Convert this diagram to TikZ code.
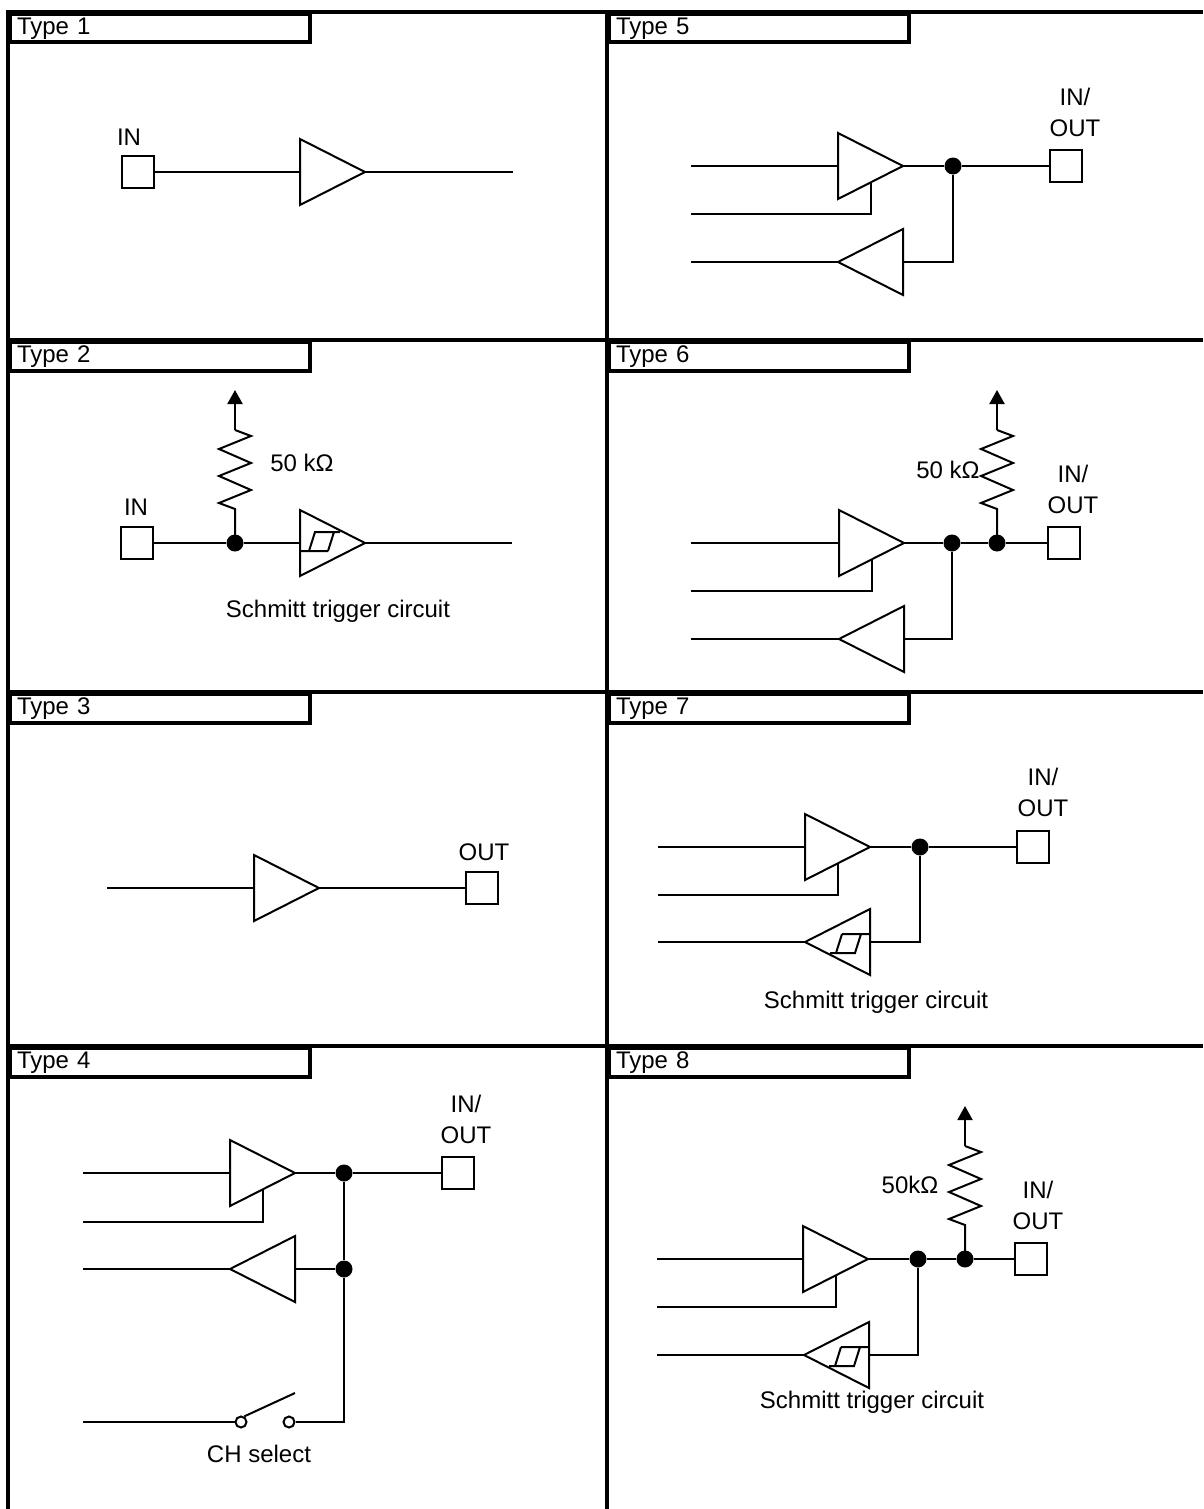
\documentclass[tikz,border=0pt]{standalone}
\usepackage{fontspec}
\setmainfont{Liberation Sans}
\usetikzlibrary{arrows.meta}
\newcommand{\iofont}{\fontsize{24}{28}\selectfont}
\tikzset{
  wire/.style={line width=2pt},
  frame/.style={line width=4pt},
  pad/.style={draw, line width=2pt, rectangle, minimum size=32pt, inner sep=0pt},
  dot/.style={circle, fill, inner sep=0pt, minimum size=17pt},
  contact/.style={circle, draw, line width=2pt, fill=white, inner sep=0pt, minimum size=11pt},
  lbl/.style={font=\iofont, inner sep=0pt},
  hdr/.style={draw, line width=4pt, anchor=north west, minimum width=300pt, minimum height=28.5pt,
    text width=286pt, inner xsep=7pt, align=left, font=\iofont},
  buffer/.pic={
    \draw[wire] (0,-33) -- (65,0) -- (0,33) -- cycle;
    \coordinate (-in) at (0,0);
    \coordinate (-out) at (65,0);
    \coordinate (-en) at (33,16.5);
  },
  schmitt/.pic={
    \draw[wire] (0,-33) -- (65,0) -- (0,33) -- cycle;
    \draw[wire] (0,8) -- (28,8) (9,8) -- (15,-11) -- (40,-11) (28,8) -- (34,-11);
    \coordinate (-in) at (0,0);
    \coordinate (-out) at (65,0);
  },
  pullup/.pic={
    \draw[wire] (0,0) -- (0,-34) -- (-16,-40) -- (16,-53) -- (-16,-67) -- (16,-80)
      -- (-16,-94) -- (16,-107) -- (0,-113);
    \draw[wire, -{Triangle[length=14pt, width=15pt]}] (0,-113) -- (0,-153);
  },
}

\begin{document}
\begin{tikzpicture}[x=1pt, y=-1pt]
  \useasboundingbox (0,0) rectangle (1203,1509);

  % Frame
  \draw[frame] (8,1509) -- (8,12) -- (1203,12);
  \draw[frame] (607,12) -- (607,1509);
  \foreach \rowy in {340, 692, 1046}
    \draw[frame] (8,\rowy) -- (1203,\rowy);

  % Headers
  \node[hdr] (h1) at (8,12) {Type 1};
  \node[hdr] (h2) at (8,340) {Type 2};
  \node[hdr] (h3) at (8,692) {Type 3};
  \node[hdr] (h4) at (8,1046) {Type 4};
  \node[hdr] (h5) at (607,12) {Type 5};
  \node[hdr] (h6) at (607,340) {Type 6};
  \node[hdr] (h7) at (607,692) {Type 7};
  \node[hdr] (h8) at (607,1046) {Type 8};

  % Type 1
  \node[pad] (t1pad) at (138,172) {};
  \node[lbl] (t1in) at (129,137) {IN};
  \pic (t1buf) at (300,172) {buffer};
  \coordinate (t1end) at (513,172);
  \draw[wire] (t1pad) -- (t1buf-in);
  \draw[wire] (t1buf-out) -- (t1end);

  % Type 2
  \node[pad] (t2pad) at (137,543) {};
  \node[lbl] (t2in) at (136,507) {IN};
  \pic (t2buf) at (300,543) {schmitt};
  \coordinate (t2end) at (512,543);
  \pic at (235,543) {pullup};
  \node[dot] (t2dot) at (235,543) {};
  \node[lbl] (t2res) at (302,463) {50 kΩ};
  \node[lbl] (t2cap) at (338,611) {Schmitt trigger circuit};
  \draw[wire] (t2pad) -- (t2dot) -- (t2buf-in);
  \draw[wire] (t2buf-out) -- (t2end);

  % Type 3
  \coordinate (t3start) at (107,888);
  \pic (t3buf) at (254,888) {buffer};
  \node[pad] (t3pad) at (482,888) {};
  \node[lbl] (t3out) at (484,852) {OUT};
  \draw[wire] (t3start) -- (t3buf-in);
  \draw[wire] (t3buf-out) -- (t3pad);

  % Type 4
  \coordinate (t4a) at (83,1173);
  \coordinate (t4b) at (83,1222);
  \coordinate (t4c) at (83,1269);
  \coordinate (t4d) at (83,1422);
  \pic (t4obuf) at (230,1173) {buffer};
  \pic[rotate=180] (t4ibuf) at (295,1269) {buffer};
  \node[dot] (t4dot1) at (344,1173) {};
  \node[dot] (t4dot2) at (344,1269) {};
  \node[pad] (t4pad) at (458,1173) {};
  \node[lbl] (t4io1) at (466,1104) {IN/};
  \node[lbl] (t4io2) at (466,1135) {OUT};
  \node[contact] (t4sw1) at (241,1422) {};
  \node[contact] (t4sw2) at (289,1422) {};
  \coordinate (t4lever) at (295,1393);
  \node[lbl] (t4cap) at (259,1454) {CH select};
  \draw[wire] (t4a) -- (t4obuf-in);
  \draw[wire] (t4b) -| (t4obuf-en);
  \draw[wire] (t4obuf-out) -- (t4dot1) -- (t4pad);
  \draw[wire] (t4c) -- (t4ibuf-out);
  \draw[wire] (t4ibuf-in) -- (t4dot2);
  \draw[wire] (t4dot1) -- (t4dot2) |- (t4sw2);
  \draw[wire] (t4d) -- (t4sw1);
  \draw[wire] (t4sw1.60) -- (t4lever);

  % Type 5
  \coordinate (t5a) at (691,166);
  \coordinate (t5b) at (691,214);
  \coordinate (t5c) at (691,262);
  \pic (t5obuf) at (838,166) {buffer};
  \pic[rotate=180] (t5ibuf) at (903,262) {buffer};
  \node[dot] (t5dot) at (953,166) {};
  \node[pad] (t5pad) at (1066,166) {};
  \node[lbl] (t5io1) at (1075,97) {IN/};
  \node[lbl] (t5io2) at (1075,128) {OUT};
  \draw[wire] (t5a) -- (t5obuf-in);
  \draw[wire] (t5b) -| (t5obuf-en);
  \draw[wire] (t5obuf-out) -- (t5dot) -- (t5pad);
  \draw[wire] (t5dot) |- (t5ibuf-in);
  \draw[wire] (t5c) -- (t5ibuf-out);

  % Type 6
  \coordinate (t6a) at (691,543);
  \coordinate (t6b) at (691,591);
  \coordinate (t6c) at (691,639);
  \pic (t6obuf) at (839,543) {buffer};
  \pic[rotate=180] (t6ibuf) at (904,639) {buffer};
  \pic at (997,543) {pullup};
  \node[dot] (t6dot1) at (952,543) {};
  \node[dot] (t6dot2) at (997,543) {};
  \node[pad] (t6pad) at (1064,543) {};
  \node[lbl] (t6res) at (948,470) {50 kΩ};
  \node[lbl] (t6io1) at (1073,474) {IN/};
  \node[lbl] (t6io2) at (1073,505) {OUT};
  \draw[wire] (t6a) -- (t6obuf-in);
  \draw[wire] (t6b) -| (t6obuf-en);
  \draw[wire] (t6obuf-out) -- (t6dot1) -- (t6dot2) -- (t6pad);
  \draw[wire] (t6dot1) |- (t6ibuf-in);
  \draw[wire] (t6c) -- (t6ibuf-out);

  % Type 7
  \coordinate (t7a) at (658,847);
  \coordinate (t7b) at (658,895);
  \coordinate (t7c) at (658,942);
  \pic (t7obuf) at (805,847) {buffer};
  \pic[rotate=180] (t7ibuf) at (870,942) {schmitt};
  \node[dot] (t7dot) at (920,847) {};
  \node[pad] (t7pad) at (1033,847) {};
  \node[lbl] (t7io1) at (1043,777) {IN/};
  \node[lbl] (t7io2) at (1043,808) {OUT};
  \node[lbl] (t7cap) at (876,1002) {Schmitt trigger circuit};
  \draw[wire] (t7a) -- (t7obuf-in);
  \draw[wire] (t7b) -| (t7obuf-en);
  \draw[wire] (t7obuf-out) -- (t7dot) -- (t7pad);
  \draw[wire] (t7dot) |- (t7ibuf-in);
  \draw[wire] (t7c) -- (t7ibuf-out);

  % Type 8
  \coordinate (t8a) at (657,1259);
  \coordinate (t8b) at (657,1307);
  \coordinate (t8c) at (657,1355);
  \pic (t8obuf) at (803,1259) {buffer};
  \pic[rotate=180] (t8ibuf) at (869,1355) {schmitt};
  \pic at (965,1259) {pullup};
  \node[dot] (t8dot1) at (918,1259) {};
  \node[dot] (t8dot2) at (965,1259) {};
  \node[pad] (t8pad) at (1031,1259) {};
  \node[lbl] (t8res) at (910,1185) {50kΩ};
  \node[lbl] (t8io1) at (1038,1190) {IN/};
  \node[lbl] (t8io2) at (1038,1221) {OUT};
  \node[lbl] (t8cap) at (872,1402) {Schmitt trigger circuit};
  \draw[wire] (t8a) -- (t8obuf-in);
  \draw[wire] (t8b) -| (t8obuf-en);
  \draw[wire] (t8obuf-out) -- (t8dot1) -- (t8dot2) -- (t8pad);
  \draw[wire] (t8dot1) |- (t8ibuf-in);
  \draw[wire] (t8c) -- (t8ibuf-out);
\end{tikzpicture}
\end{document}
